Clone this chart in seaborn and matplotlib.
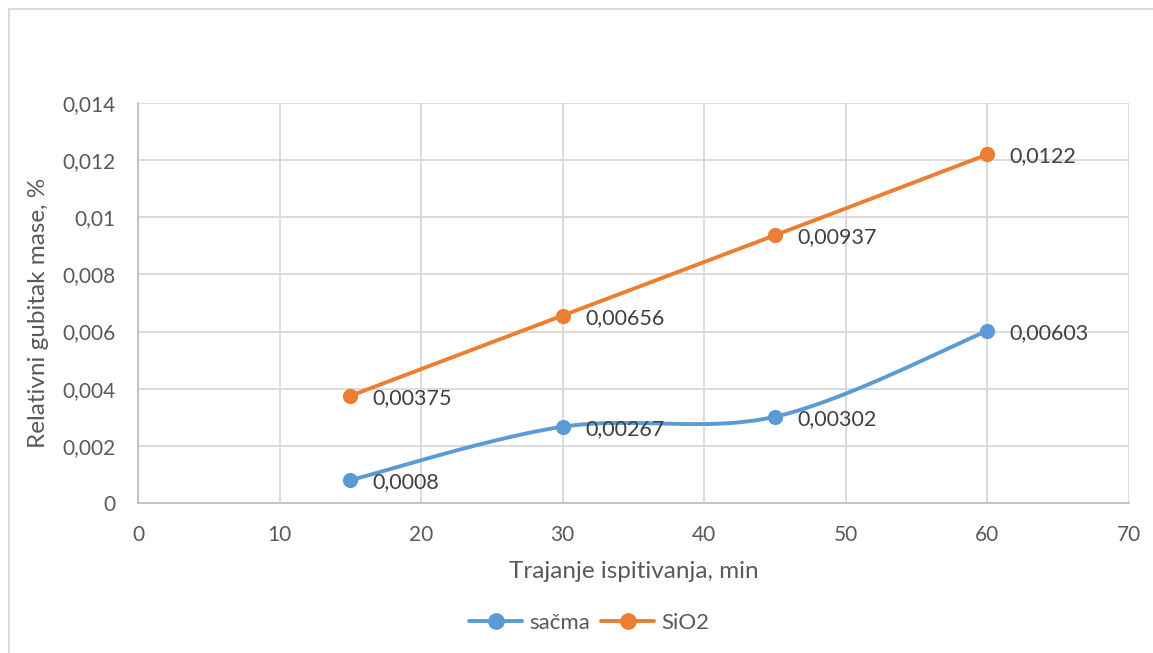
import numpy as np
import pandas as pd
import matplotlib
matplotlib.use("Agg")
import matplotlib.pyplot as plt
import seaborn as sns
from matplotlib.lines import Line2D
from matplotlib.patches import Rectangle

# data
minutes = [15, 30, 45, 60]
sacma = [0.0008, 0.00267, 0.00302, 0.00603]
sio2 = [0.00375, 0.00656, 0.00937, 0.0122]
sacma_labels = ["0,0008", "0,00267", "0,00302", "0,00603"]
sio2_labels = ["0,00375", "0,00656", "0,00937", "0,0122"]
x_ticks = [0, 10, 20, 30, 40, 50, 60, 70]
y_ticks = [0, 0.002, 0.004, 0.006, 0.008, 0.01, 0.012, 0.014]
y_tick_labels = ["0", "0,002", "0,004", "0,006", "0,008", "0,01", "0,012", "0,014"]

BLUE = "#5B9BD5"
ORANGE = "#ED7D31"
TEXT = "#595959"


def smooth(x, y, n=50):
    """Excel-like smoothed line: cubic Bezier segments, Catmull-Rom control points."""
    pts = np.column_stack([x, y]).astype(float)
    padded = np.vstack([pts[0], pts, pts[-1]])
    t = np.linspace(0, 1, n)[:, None]
    out = []
    for i in range(len(pts) - 1):
        p0, p1, p2, p3 = padded[i:i + 4]
        c1 = p1 + (p2 - p0) / 6
        c2 = p2 - (p3 - p1) / 6
        seg = ((1 - t) ** 3) * p1 + 3 * ((1 - t) ** 2) * t * c1 + 3 * (1 - t) * t ** 2 * c2 + t ** 3 * p2
        out.append(seg if i == 0 else seg[1:])
    seg = np.vstack(out)
    return pd.DataFrame({"x": seg[:, 0], "y": seg[:, 1]})


sns.set_theme(style="white")
plt.rcParams["font.family"] = ["Lato", "DejaVu Sans"]

fig = plt.figure(figsize=(11.53, 6.53), dpi=100)
ax = fig.add_axes([138 / 1153, 150 / 653, 991 / 1153, 400 / 653])

# outer chart border (only top and left visible in the crop)
fig.add_artist(Rectangle((8.5 / 1153, -0.1), 1.2, 1.1 - 9.5 / 653,
                         transform=fig.transFigure, fill=False,
                         edgecolor="#D9D9D9", linewidth=1.3))

for vals, color in [(sacma, BLUE), (sio2, ORANGE)]:
    curve = smooth(minutes, vals)
    sns.lineplot(data=curve, x="x", y="y", sort=False, color=color,
                 linewidth=2.8, ax=ax, zorder=3)
    sns.scatterplot(x=minutes, y=vals, color=color, s=120, edgecolor=color,
                    linewidth=0, ax=ax, zorder=4)

for xs, ys, labs in [(minutes, sacma, sacma_labels), (minutes, sio2, sio2_labels)]:
    for xv, yv, lab in zip(xs, ys, labs):
        ax.annotate(lab, (xv, yv), xytext=(16, -1.5), textcoords="offset points",
                    ha="left", va="center", fontsize=15.5, color="#404040", zorder=5)

ax.set_xlim(0, 70)
ax.set_ylim(0, 0.014)
ax.set_xticks(x_ticks)
ax.set_xticklabels([str(v) for v in x_ticks])
ax.set_yticks(y_ticks)
ax.set_yticklabels(y_tick_labels)
ax.tick_params(axis="both", length=0, labelsize=15, labelcolor=TEXT)
ax.tick_params(axis="x", pad=16)
ax.tick_params(axis="y", pad=16)
ax.grid(True, color="#D9D9D9", linewidth=1.3)
ax.set_axisbelow(True)
for side in ["top", "right"]:
    ax.spines[side].set_visible(False)
for side in ["left", "bottom"]:
    ax.spines[side].set_color("#BFBFBF")
    ax.spines[side].set_linewidth(1.3)

ax.set_xlabel("Trajanje ispitivanja, min", fontsize=17.5, color=TEXT)
ax.set_ylabel("Relativni gubitak mase, %", fontsize=17.5, color=TEXT)
ax.xaxis.set_label_coords(0.5, -0.145)
ax.yaxis.set_label_coords(-0.09, 0.475)

handles = [
    Line2D([], [], color=BLUE, linewidth=2.8, marker="o", markersize=11),
    Line2D([], [], color=ORANGE, linewidth=2.8, marker="o", markersize=11),
]
fig.legend(handles, ["sačma", "SiO2"], loc="center", bbox_to_anchor=(589 / 1153, 1 - 623 / 653),
           ncol=2, frameon=False, fontsize=16, labelcolor=TEXT, handlelength=2.4,
           handletextpad=0.3, columnspacing=0.5)

fig.savefig("out.png", dpi=100)
